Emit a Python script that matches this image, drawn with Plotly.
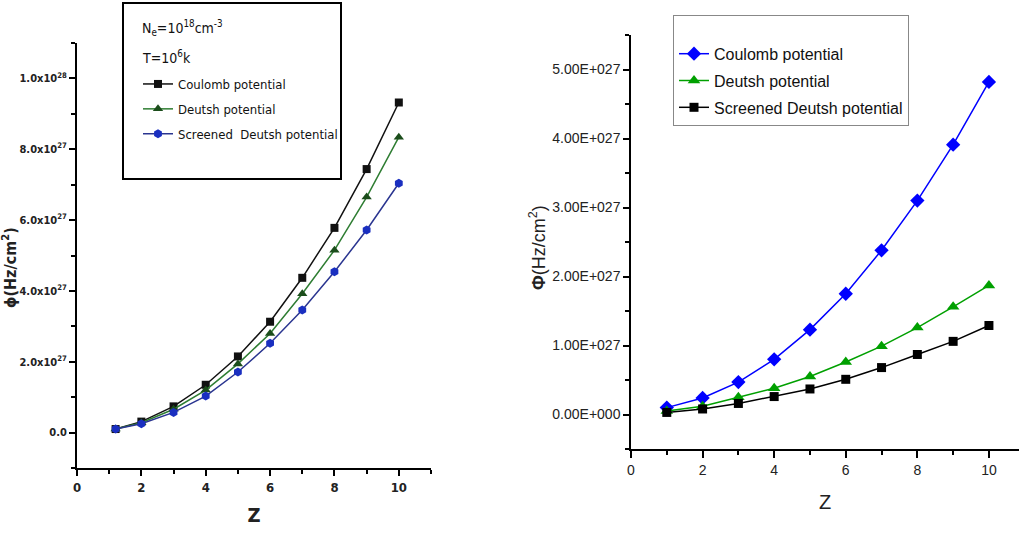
import plotly.graph_objects as go

# ---------------- data ----------------
z_left = [1.2, 2, 3, 4, 5, 6, 7, 8, 9, 10]
left_coulomb = [0.10e27, 0.31e27, 0.74e27, 1.35e27, 2.15e27, 3.13e27, 4.37e27, 5.78e27, 7.44e27, 9.32e27]
left_deutsh = [0.10e27, 0.28e27, 0.66e27, 1.20e27, 1.94e27, 2.80e27, 3.92e27, 5.15e27, 6.65e27, 8.34e27]
left_screened = [0.10e27, 0.25e27, 0.57e27, 1.03e27, 1.71e27, 2.52e27, 3.46e27, 4.54e27, 5.72e27, 7.04e27]

z_right = [1, 2, 3, 4, 5, 6, 7, 8, 9, 10]
right_coulomb = [0.10e27, 0.24e27, 0.47e27, 0.80e27, 1.23e27, 1.75e27, 2.38e27, 3.10e27, 3.91e27, 4.82e27]
right_deutsh = [0.05e27, 0.12e27, 0.25e27, 0.38e27, 0.55e27, 0.76e27, 0.99e27, 1.26e27, 1.56e27, 1.87e27]
right_screened = [0.03e27, 0.08e27, 0.16e27, 0.26e27, 0.37e27, 0.51e27, 0.68e27, 0.87e27, 1.06e27, 1.29e27]

left_ytickvals = [0, 2e27, 4e27, 6e27, 8e27, 1e28]
left_yticktext = ["0.0", "2.0x10<sup>27</sup>", "4.0x10<sup>27</sup>", "6.0x10<sup>27</sup>",
                  "8.0x10<sup>27</sup>", "1.0x10<sup>28</sup>"]
right_ytickvals = [0, 1e27, 2e27, 3e27, 4e27, 5e27]
right_yticktext = ["0.00E+000", "1.00E+027", "2.00E+027", "3.00E+027", "4.00E+027", "5.00E+027"]
x_tickvals = [0, 2, 4, 6, 8, 10]
left_conditions = ["N<sub>e</sub>=10<sup>18</sup>cm<sup>-3</sup>", "T=10<sup>6</sup>k"]
left_ytitle = "<b>ϕ(Hz/cm<sup>2</sup>)</b>"
right_ytitle = "<b>Φ</b>(Hz/cm<sup>2</sup>)"

# ---------------- styles ----------------
W, H = 1019, 533
LFONT = "DejaVu Sans Condensed, Arial Narrow, sans-serif"
RFONT = "Liberation Sans, Arial, sans-serif"


def px(x):
    return x / W


def py(y):
    return 1 - y / H


fig = go.Figure()

# Left panel
fig.add_trace(go.Scatter(x=z_left, y=left_coulomb, name="Coulomb potential", mode="lines+markers",
                         line=dict(color="#111111", width=1.5),
                         marker=dict(symbol="square", size=8, color="#111111"),
                         xaxis="x", yaxis="y", legend="legend", legendgroup="l1"))
fig.add_trace(go.Scatter(x=z_left, y=left_deutsh, name="Deutsh potential", mode="lines+markers",
                         line=dict(color="#2e7d32", width=1.5),
                         marker=dict(symbol="triangle-up", size=9, color="#1b4d1b"),
                         xaxis="x", yaxis="y", legend="legend", legendgroup="l2"))
fig.add_trace(go.Scatter(x=z_left, y=left_screened, name="Screened  Deutsh potential", mode="lines+markers",
                         line=dict(color="#2a3590", width=1.5),
                         marker=dict(symbol="hexagon", size=9, color="#1a2fc0"),
                         xaxis="x", yaxis="y", legend="legend", legendgroup="l3"))

# Right panel
fig.add_trace(go.Scatter(x=z_right, y=right_coulomb, name="Coulomb potential", mode="lines+markers",
                         line=dict(color="#0000ff", width=1.5),
                         marker=dict(symbol="diamond", size=11, color="#0000ff"),
                         xaxis="x2", yaxis="y2", legend="legend2", legendgroup="r1"))
fig.add_trace(go.Scatter(x=z_right, y=right_deutsh, name="Deutsh potential", mode="lines+markers",
                         line=dict(color="#00a000", width=1.5),
                         marker=dict(symbol="triangle-up", size=11, color="#00a000"),
                         xaxis="x2", yaxis="y2", legend="legend2", legendgroup="r2"))
fig.add_trace(go.Scatter(x=z_right, y=right_screened, name="Screened Deutsh potential", mode="lines+markers",
                         line=dict(color="#000000", width=1.5),
                         marker=dict(symbol="square", size=9, color="#000000"),
                         xaxis="x2", yaxis="y2", legend="legend2", legendgroup="r3"))

# left legend frame and condition labels
fig.add_shape(type="rect", xref="paper", yref="paper", x0=px(123), x1=px(341), y0=py(179), y1=py(3),
              line=dict(color="black", width=2), fillcolor="rgba(0,0,0,0)", layer="below")
for i, txt in enumerate(left_conditions):
    fig.add_annotation(xref="paper", yref="paper", x=px(140), y=py(28 + 29 * i), xanchor="left", yanchor="middle",
                       text=txt, showarrow=False, font=dict(family=LFONT, size=14, color="#111"))

# y-axis titles
fig.add_annotation(xref="paper", yref="paper", x=px(9), y=py(268), xanchor="center", yanchor="middle",
                   text=left_ytitle, textangle=-90, showarrow=False,
                   font=dict(family=LFONT, size=16, color="#222"))
fig.add_annotation(xref="paper", yref="paper", x=px(537), y=py(248), xanchor="center", yanchor="middle",
                   text=right_ytitle, textangle=-90, showarrow=False,
                   font=dict(family=RFONT, size=18, color="#222"))

fig.update_layout(
    width=W, height=H,
    margin=dict(l=0, r=0, t=0, b=0, autoexpand=False),
    paper_bgcolor="white", plot_bgcolor="white",
    showlegend=True,
    xaxis=dict(domain=[px(77), px(431)], range=[0, 11], tickvals=x_tickvals, automargin=False,
               ticks="outside", ticklen=6, tickwidth=2, tickcolor="black",
               showline=True, linecolor="black", linewidth=2, showgrid=False, zeroline=False,
               minor=dict(dtick=1, tick0=0, ticks="outside", ticklen=4, tickwidth=2, tickcolor="black", showgrid=False),
               tickfont=dict(family=LFONT, size=13, color="#222", weight="bold"),
               title=dict(text="<b>Z</b>", font=dict(family=LFONT, size=20, color="#222"), standoff=14),
               anchor="y"),
    yaxis=dict(domain=[py(468), py(43)], range=[-1e27, 1.1e28], tickvals=left_ytickvals, ticktext=left_yticktext,
               automargin=False,
               ticks="outside", ticklen=6, tickwidth=2, tickcolor="black",
               showline=True, linecolor="black", linewidth=2, showgrid=False, zeroline=False,
               minor=dict(dtick=1e27, tick0=0, ticks="outside", ticklen=4, tickwidth=2, tickcolor="black", showgrid=False),
               tickfont=dict(family=LFONT, size=11, color="#222", weight="bold"),
               anchor="x"),
    xaxis2=dict(domain=[px(631), 1.0], range=[0, 10.84], tickvals=x_tickvals, automargin=False,
                ticks="outside", ticklen=7, tickwidth=1.5, tickcolor="black",
                showline=True, linecolor="black", linewidth=1.5, showgrid=False, zeroline=False,
                minor=dict(dtick=1, tick0=0, ticks="outside", ticklen=4, tickwidth=1.5, tickcolor="black", showgrid=False),
                tickfont=dict(family=RFONT, size=14, color="#222"),
                title=dict(text="Z", font=dict(family=RFONT, size=20, color="#222"), standoff=18),
                anchor="y2"),
    yaxis2=dict(domain=[py(449), py(35)], range=[-0.5e27, 5.5e27], tickvals=right_ytickvals, ticktext=right_yticktext,
                automargin=False,
                ticks="outside", ticklen=6, tickwidth=1.5, tickcolor="black",
                showline=True, linecolor="black", linewidth=1.5, showgrid=False, zeroline=False,
                minor=dict(dtick=0.5e27, tick0=0, ticks="outside", ticklen=4, tickwidth=1.5, tickcolor="black", showgrid=False),
                tickfont=dict(family=RFONT, size=14, color="#222"),
                anchor="x2"),
    legend=dict(x=px(138), y=py(69), xanchor="left", yanchor="top",
                bgcolor="rgba(0,0,0,0)", borderwidth=0,
                font=dict(family=LFONT, size=13, color="#111"),
                tracegroupgap=5, itemwidth=30),
    legend2=dict(x=px(673), y=py(15), xanchor="left", yanchor="top",
                 bgcolor="white", bordercolor="#888", borderwidth=1,
                 font=dict(family=RFONT, size=16, color="#111"),
                 title=dict(text=" ", font=dict(size=16)),
                 tracegroupgap=3, itemwidth=30),
)

fig.write_html("out.html", config={"displayModeBar": False},
               post_script="document.body.style.margin='0';document.body.style.padding='0';")
